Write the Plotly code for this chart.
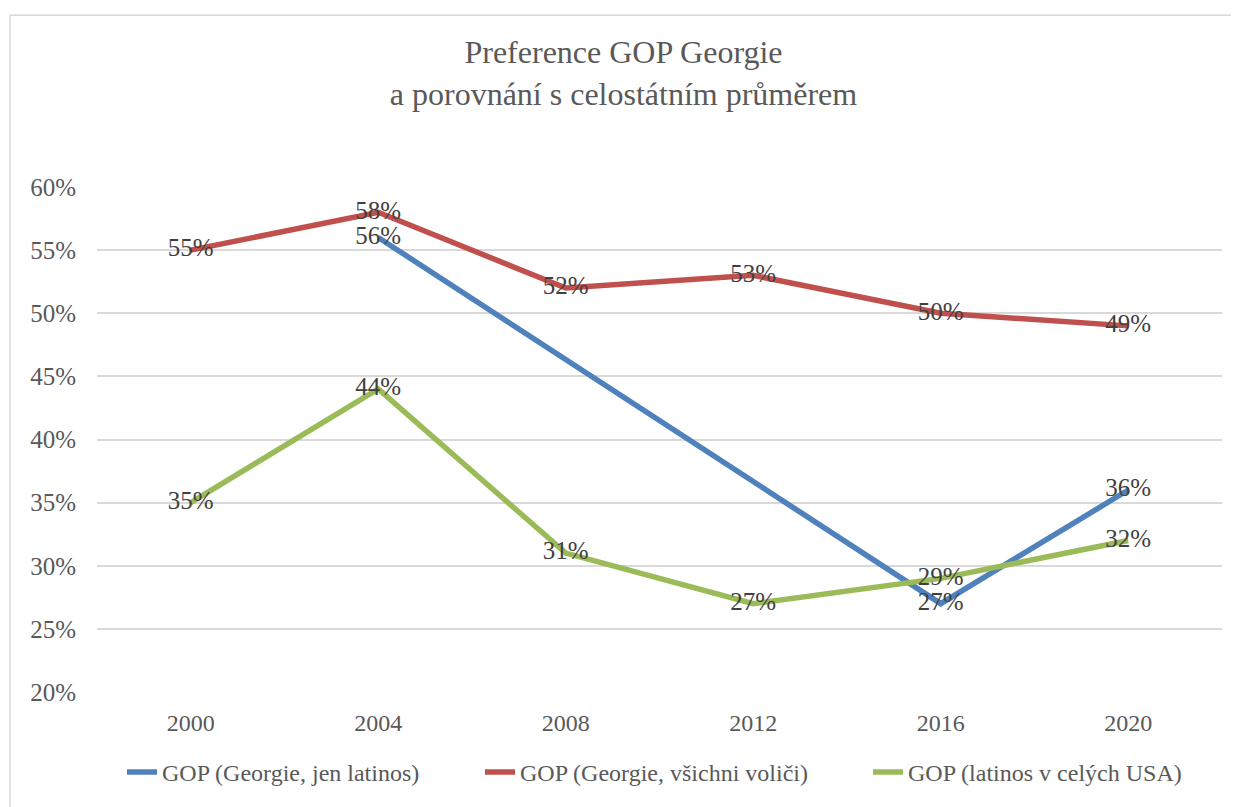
import plotly.graph_objects as go

years = ["2000", "2004", "2008", "2012", "2016", "2020"]
gop_ga_latinos = [None, 56, None, None, 27, 36]
gop_ga_all = [55, 58, 52, 53, 50, 49]
gop_us_latinos = [35, 44, 31, 27, 29, 32]
series_names = ["GOP (Georgie, jen latinos)", "GOP (Georgie, všichni voliči)", "GOP (latinos v celých USA)"]
colors = ["#4f81bd", "#c0504d", "#9bbb59"]
y_ticks = [20, 25, 30, 35, 40, 45, 50, 55, 60]

FONT = "Liberation Serif"

# page offset (body margin) is 8px
W, H = 1231, 799
L, R, T, B = 89, 17, 179, 111
PW = W - L - R
PH = H - T - B

def px_x(page_x):
    return (page_x - 8 - L) / PW

def px_y(page_y):
    return (H - B - (page_y - 8)) / PH

legend_names = ["legend", "legend2", "legend3"]
legend_left = [122, 480, 868]

fig = go.Figure()
for i, (name, vals, col) in enumerate(zip(series_names, [gop_ga_latinos, gop_ga_all, gop_us_latinos], colors)):
    fig.add_trace(go.Scatter(
        x=years, y=vals, name=name, mode="lines+text",
        connectgaps=True,
        line=dict(color=col, width=5.5),
        text=[f"{v}%" if v is not None else "" for v in vals],
        textposition="middle center",
        textfont=dict(family=FONT, size=25, color="#404040"),
        legend=legend_names[i],
    ))

layout_legends = {}
for i, ln in enumerate(legend_names):
    layout_legends[ln] = dict(
        x=px_x(legend_left[i]), xanchor="left", y=px_y(777), yanchor="middle",
        font=dict(family=FONT, size=24, color="#595959"),
        bgcolor="rgba(0,0,0,0)",
    )

fig.update_layout(
    width=W, height=H,
    paper_bgcolor="white", plot_bgcolor="white",
    margin=dict(l=L, r=R, t=T, b=B),
    title=dict(text="Preference GOP Georgie<br>a porovnání s celostátním průměrem",
               x=0.5, xanchor="center", y=1 - (63 - 8) / H, yanchor="middle",
               font=dict(family=FONT, size=32, color="#595959")),
    xaxis=dict(type="category", range=[-0.5, 5.5], showgrid=False, showline=False,
               ticks="", ticklabelstandoff=14,
               tickfont=dict(family=FONT, size=24, color="#595959")),
    yaxis=dict(range=[20, 60], tickvals=y_ticks, ticktext=[f"{t}%" for t in y_ticks],
               showgrid=True, gridcolor="#d9d9d9", gridwidth=1.5, zeroline=False,
               showline=False, ticks="", ticklabelstandoff=20,
               tickfont=dict(family=FONT, size=25, color="#595959")),
    showlegend=True,
    shapes=[dict(type="rect", xref="paper", yref="paper",
                 x0=px_x(10), x1=1.2, y0=-0.5, y1=px_y(14),
                 line=dict(color="#d9d9d9", width=1.5), layer="below")],
    **layout_legends,
)
fig.write_html("out.html")
